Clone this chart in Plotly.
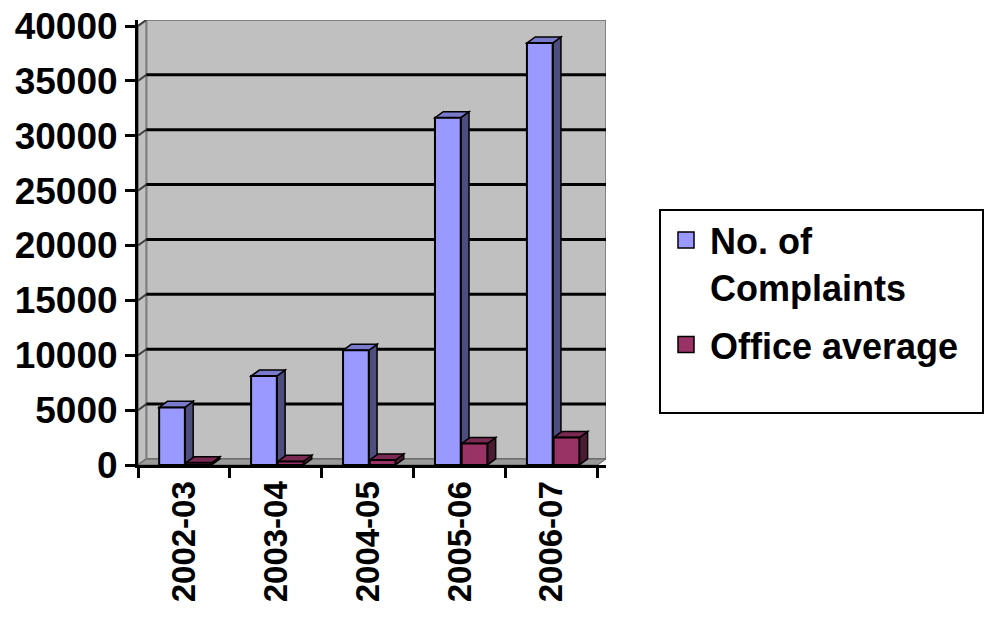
import plotly.graph_objects as go

# Annual complaint figures
categories = ["2002-03", "2003-04", "2004-05", "2005-06", "2006-07"]
complaints = [5250, 8100, 10450, 31650, 38450]
office_avg = [200, 330, 450, 1950, 2500]
y_ticks = [0, 5000, 10000, 15000, 20000, 25000, 30000, 35000, 40000]

series_names = ["No. of<br>Complaints", "Office average"]

# Face colours (front, side, top) for each series
COLORS = [
    ("#9999FF", "#4D4D80", "#7A7ACC"),
    ("#993366", "#4D1A33", "#7A2952"),
]
OFFSETS = [-0.27, 0.02]
BAR_W = 0.28

# 3-D depth expressed in axis units
DX = 0.09
DY = 550

FAMILY = "Liberation Sans, Arial, sans-serif"
YFONT = dict(family=FAMILY, size=37, color="black", weight="bold")
XFONT = dict(family=FAMILY, size=33, color="black", weight="bold")

idx = list(range(len(categories)))
x_lo, x_hi = -0.5, len(categories) - 0.5
y_top = max(y_ticks)

fig = go.Figure()
shapes = []

# Back wall, left wall and floor
shapes.append(dict(type="rect", xref="x", yref="y", layer="below",
                   x0=x_lo + DX, x1=x_hi + DX, y0=DY, y1=y_top + DY,
                   fillcolor="#C0C0C0", line=dict(color="#808080", width=2)))
shapes.append(dict(type="path", xref="x", yref="y", layer="below",
                   path=f"M{x_lo},0 L{x_lo + DX},{DY} L{x_lo + DX},{y_top + DY} L{x_lo},{y_top} Z",
                   fillcolor="#C0C0C0", line=dict(color="#808080", width=2)))
shapes.append(dict(type="path", xref="x", yref="y", layer="below",
                   path=f"M{x_lo},0 L{x_hi},0 L{x_hi + DX},{DY} L{x_lo + DX},{DY} Z",
                   fillcolor="#9A9A9A", line=dict(color="#606060", width=1)))

# Gridlines on the back wall and their slanted ends on the side wall
for v in y_ticks[1:]:
    shapes.append(dict(type="line", xref="x", yref="y", layer="below",
                       x0=x_lo, y0=v, x1=x_lo + DX, y1=v + DY,
                       line=dict(color="#404040", width=2)))
    if v < y_top:
        shapes.append(dict(type="line", xref="x", yref="y", layer="below",
                           x0=x_lo + DX, y0=v + DY, x1=x_hi + DX, y1=v + DY,
                           line=dict(color="black", width=3)))

# Side and top faces of each bar, front faces drawn as bar traces
for s, values in enumerate([complaints, office_avg]):
    front, side, top = COLORS[s]
    for i, v in zip(idx, values):
        left = i + OFFSETS[s]
        right = left + BAR_W
        shapes.append(dict(type="path", xref="x", yref="y", layer="below",
                           path=f"M{right},0 L{right + DX},{DY} L{right + DX},{v + DY} L{right},{v} Z",
                           fillcolor=side, line=dict(color="black", width=1.5)))
        shapes.append(dict(type="path", xref="x", yref="y", layer="below",
                           path=f"M{left},{v} L{right},{v} L{right + DX},{v + DY} L{left + DX},{v + DY} Z",
                           fillcolor=top, line=dict(color="black", width=1.5)))
    fig.add_trace(go.Bar(
        x=idx, y=values, width=BAR_W, offset=OFFSETS[s],
        marker=dict(color=front, line=dict(color="black", width=2)),
        showlegend=False, hoverinfo="skip", legendgroup=f"s{s}",
    ))
    # legend swatch
    fig.add_trace(go.Scatter(
        x=[None], y=[None], mode="markers", name=series_names[s], legendgroup=f"s{s}",
        marker=dict(symbol="square", size=16, color=front, line=dict(color="black", width=1.5)),
    ))

# Legend frame (paper coordinates)
L, T, PW, PH = 138, 20, 468, 445
def px_x(p):
    return (p - L) / PW
def px_y(p):
    return (T + PH - p) / PH

shapes.append(dict(type="rect", xref="paper", yref="paper",
                   x0=px_x(660), x1=px_x(983), y0=px_y(413), y1=px_y(210),
                   line=dict(color="black", width=2), fillcolor="rgba(0,0,0,0)"))

fig.update_layout(
    width=984, height=628,
    margin=dict(l=L, r=984 - L - PW, t=T, b=628 - T - PH, autoexpand=False),
    paper_bgcolor="white", plot_bgcolor="white",
    shapes=shapes,
    barmode="overlay",
    showlegend=True,
    legend=dict(x=px_x(662), y=px_y(210), xanchor="left", yanchor="top",
                bgcolor="rgba(0,0,0,0)", borderwidth=0, valign="top",
                font=dict(family=FAMILY, size=36, color="black", weight="bold"),
                itemwidth=38, tracegroupgap=8),
    xaxis=dict(range=[x_lo, x_hi + DX], tickmode="array", tickvals=idx, ticktext=categories,
               tickangle=-90, ticks="", showgrid=False, zeroline=False, automargin=False,
               showline=True, linecolor="black", linewidth=3,
               tickfont=XFONT,
               minor=dict(tickmode="array", tickvals=[i - 0.5 for i in range(len(categories) + 1)],
                          ticks="outside", ticklen=10, tickwidth=3, tickcolor="black", showgrid=False)),
    yaxis=dict(range=[0, y_top + DY], tickmode="array", tickvals=y_ticks,
               ticktext=[str(v) for v in y_ticks], automargin=False,
               ticks="outside", ticklen=10, tickwidth=3, tickcolor="black",
               showgrid=False, zeroline=False,
               showline=True, linecolor="black", linewidth=3,
               tickfont=YFONT),
)

fig.write_html("out.html")
